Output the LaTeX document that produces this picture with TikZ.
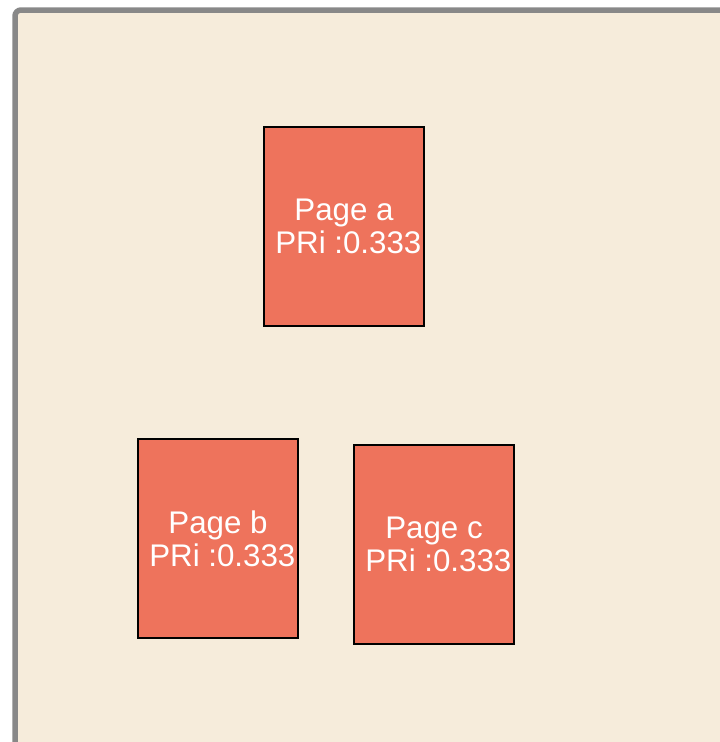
\documentclass[tikz,border=0pt]{standalone}
\usepackage{fontspec}
\setmainfont{Liberation Sans}
\definecolor{bgbeige}{HTML}{F6ECDB}
\definecolor{frame}{HTML}{888888}
\definecolor{salmon}{HTML}{EE735C}
\newcommand{\lsp}{\hspace*{0.278em}}
\begin{document}
\begin{tikzpicture}[x=1pt,y=-1pt,
  pagebox/.style={draw=black, line width=1.6pt, fill=salmon, text=white,
    minimum width=160pt, minimum height=199pt, inner sep=0pt, align=center,
    font=\fontsize{31.3}{33}\selectfont}]
\useasboundingbox (0,0) rectangle (720,742);
\begin{scope}
\clip (0,0) rectangle (720,742);
\draw[frame, line width=5.5pt, fill=bgbeige, rounded corners=6pt] (15,10) rectangle (760,780);
\end{scope}
\node[pagebox] (a) at (344,226.5) {Page a\\\lsp PRi :0.333};
\node[pagebox] (b) at (218,538.5) {Page b\\\lsp PRi :0.333};
\node[pagebox] (c) at (434,544.5) {Page c\\\lsp PRi :0.333};
\end{tikzpicture}
\end{document}
